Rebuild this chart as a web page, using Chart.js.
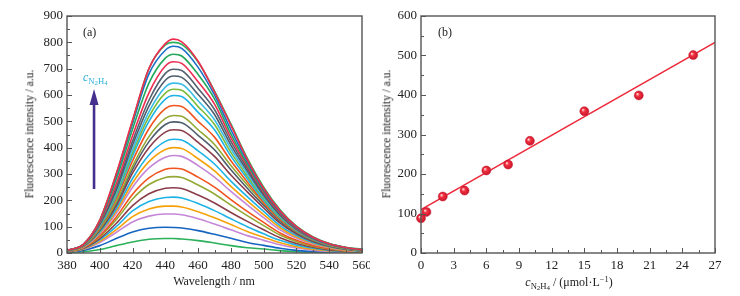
<!DOCTYPE html>
<html>
<head>
<meta charset="utf-8">
<script src="https://cdn.jsdelivr.net/npm/chart.js@4.4.0/dist/chart.umd.min.js"></script>
<style>
  html, body { margin: 0; padding: 0; background: #fff; }
  #page { position: relative; width: 740px; height: 296px; overflow: hidden; font-family: "Liberation Serif", "DejaVu Serif", serif; color: #222; }
  #page canvas { position: absolute; top: 0; }
  .lbl { position: absolute; white-space: nowrap; font-size: 12px; line-height: 1; }
  .mid { transform: translate(-50%, -50%); }
  .vert { transform: translate(-50%, -50%) rotate(-90deg); font-size: 11.5px; }
  .sub { font-size: 0.72em; position: relative; top: 0.35em; font-style: normal; }
  .sub2 { font-size: 0.8em; position: relative; top: 0.2em; }
  .sup { font-size: 0.7em; position: relative; top: -0.45em; }
</style>
</head>
<body>
<div id="page">
  <canvas id="spectraChart" width="370" height="296" style="left:0"></canvas>
  <canvas id="fitChart" width="370" height="296" style="left:370px"></canvas>

  <div class="lbl vert" style="left:30px;top:134px">Fluorescence intensity / a.u.</div>
  <div class="lbl mid" style="left:214px;top:281px">Wavelength / nm</div>
  <div class="lbl" style="left:83px;top:26px">(a)</div>
  <div class="lbl" style="left:83px;top:71px;color:#2bb0d6"><i>c</i><span class="sub">N<span class="sub2">2</span>H<span class="sub2">4</span></span></div>

  <div class="lbl vert" style="left:387px;top:134px">Fluorescence intensity / a.u.</div>
  <div class="lbl mid" style="left:569px;top:282px"><i>c</i><span class="sub">N<span class="sub2">2</span>H<span class="sub2">4</span></span> / (μmol·L<span class="sup">−1</span>)</div>
  <div class="lbl" style="left:438px;top:26px">(b)</div>
</div>

<script>
/* (a) SPECTRA, one array per N2H4 concentration, low to high */
var wavelengths = [380, 390, 400, 410, 420, 430, 440, 445, 450, 460, 470, 480, 490, 500, 510, 520, 530, 540, 550, 560];

var s01 = [2, 5, 13, 28, 42, 52, 55, 55, 53, 47, 38, 28, 20, 15, 9, 5, 2, 1, 0, 0];
var s02 = [3, 10, 28, 55, 80, 94, 98, 97, 95, 85, 71, 56, 40, 29, 18, 10, 6, 3, 1, 0];
var s03 = [4, 14, 40, 78, 118, 140, 148, 148, 145, 130, 110, 88, 66, 48, 31, 19, 11, 6, 3, 1];
var s04 = [4, 15, 44, 88, 138, 167, 178, 178, 175, 157, 134, 108, 82, 60, 39, 24, 14, 8, 4, 2];
var s05 = [5, 17, 50, 100, 160, 196, 211, 212, 209, 188, 161, 130, 100, 73, 48, 30, 18, 10, 5, 2];
var s06 = [5, 18, 55, 112, 180, 225, 246, 248, 245, 220, 190, 154, 120, 88, 58, 36, 22, 12, 7, 3];
var s07 = [6, 20, 62, 126, 205, 260, 287, 290, 287, 258, 224, 182, 142, 104, 68, 43, 26, 15, 8, 4];
var s08 = [6, 21, 66, 136, 223, 285, 318, 322, 319, 288, 250, 203, 158, 116, 76, 48, 29, 17, 9, 4];
var s09 = [7, 23, 72, 150, 250, 323, 364, 370, 367, 332, 288, 234, 183, 134, 88, 56, 34, 20, 11, 5];
var s10 = [7, 24, 76, 158, 266, 347, 393, 400, 397, 358, 312, 253, 198, 146, 96, 61, 37, 22, 12, 6];
var s11 = [7, 25, 80, 167, 283, 372, 424, 432, 429, 388, 338, 273, 214, 158, 104, 66, 40, 24, 13, 6];
var s12 = [8, 26, 85, 178, 303, 400, 459, 468, 465, 420, 367, 296, 232, 171, 113, 72, 44, 26, 15, 7];
var s13 = [8, 27, 88, 187, 318, 423, 488, 498, 495, 447, 392, 316, 246, 181, 120, 76, 46, 27, 16, 8];
var s14 = [8, 28, 91, 193, 330, 442, 511, 522, 519, 468, 412, 332, 258, 190, 126, 80, 49, 29, 17, 8];
var s15 = [8, 29, 96, 205, 350, 472, 548, 560, 556, 500, 440, 350, 270, 192, 128, 81, 50, 30, 17, 9];
var s16 = [9, 30, 100, 215, 368, 500, 584, 598, 594, 534, 468, 368, 282, 200, 133, 84, 52, 31, 18, 10];
var s17 = [9, 30, 103, 222, 380, 518, 607, 622, 618, 556, 488, 382, 292, 207, 137, 86, 53, 32, 18, 10];
var s18 = [9, 31, 106, 230, 393, 536, 630, 645, 641, 578, 506, 396, 302, 213, 141, 88, 54, 33, 19, 11];
var s19 = [9, 31, 109, 238, 410, 558, 656, 672, 667, 602, 526, 410, 312, 219, 144, 90, 55, 33, 19, 11];
var s20 = [9, 32, 112, 247, 425, 580, 682, 698, 693, 625, 545, 424, 321, 225, 148, 92, 56, 34, 20, 12];
var s21 = [10, 32, 116, 262, 445, 608, 710, 726, 720, 650, 565, 438, 330, 230, 151, 94, 57, 34, 20, 12];
var s22 = [10, 33, 120, 280, 470, 645, 740, 755, 748, 678, 585, 452, 338, 236, 155, 96, 58, 35, 20, 13];
var s23 = [10, 33, 123, 292, 492, 680, 770, 785, 777, 705, 600, 468, 348, 242, 158, 98, 59, 35, 21, 13];
var s24 = [10, 33, 125, 298, 500, 700, 790, 800, 792, 725, 615, 490, 360, 250, 164, 102, 62, 36, 22, 14];
var s25 = [10, 33, 125, 300, 505, 700, 795, 812, 802, 728, 612, 485, 355, 245, 160, 100, 60, 35, 21, 13];

var spectra = [s01, s02, s03, s04, s05, s06, s07, s08, s09, s10, s11, s12, s13,
               s14, s15, s16, s17, s18, s19, s20, s21, s22, s23, s24, s25];
var spectraColors = ['#2bb15a', '#1565c0', '#c586d8', '#f5a20a', '#1db3e6', '#8b3d4a', '#93a934', '#f0531d',
                     '#c586d8', '#f5a20a', '#1db3e6', '#8b3d4a', '#4e5e6c', '#93a934', '#f0531d', '#1db3e6',
                     '#7dbb3a', '#3bbde8', '#4e5e6c', '#56616f', '#ef2b4f', '#21a85a', '#1a6fc9', '#2bb15a', '#ef2b4f'];
var wlTicks = [380, 560, 20];
var intensityTicks = [0, 900, 100];

/* (b) CALIBRATION POINTS AND FIT LINE */
var concentrations = [0, 0.5, 2, 4, 6, 8, 10, 15, 20, 25];
var intensities = [88, 104, 143, 158, 209, 224, 284, 359, 399, 501];
var fitX = [0, 27];
var fitY = [110, 533];
var concTicks = [0, 27, 3];
var fitIntensityTicks = [0, 600, 100];

/* arrow in (a): wavelength, from intensity, to intensity */
var arrowAt = [396.5, 243, 623];

Chart.defaults.font.family = '"Liberation Serif", "DejaVu Serif", serif';
Chart.defaults.font.size = 13;
Chart.defaults.color = '#222';

function pairs(xs, ys) {
  var out = [];
  for (var i = 0; i < xs.length; i++) {
    out.push({ x: xs[i], y: ys[i] });
  }
  return out;
}

function fixedX(h) {
  return function (s) { s.height = h; s.paddingLeft = 0; s.paddingRight = 0; };
}
function fixedY(w) {
  return function (s) { s.width = w; s.paddingTop = 0; s.paddingBottom = 0; };
}

function axis(t, afterFit, pad) {
  return {
    type: 'linear', min: t[0], max: t[1],
    ticks: { stepSize: t[2], padding: pad, color: '#222', font: { size: 13 } },
    grid: { display: false, drawTicks: false },
    border: { display: false },
    afterFit: afterFit
  };
}

/* frame box and inward ticks */
var frameTicks = {
  id: 'frameTicks',
  afterDraw: function (chart) {
    var c = chart.ctx, a = chart.chartArea;
    var xs = chart.scales.x, ys = chart.scales.y;
    c.save();
    c.strokeStyle = '#555';
    c.lineWidth = 1.4;
    c.strokeRect(a.left, a.top, a.right - a.left, a.bottom - a.top);
    c.lineWidth = 1;
    c.beginPath();
    var xt = xs.ticks, yt = ys.ticks, i, p;
    for (i = 0; i < xt.length; i++) {
      p = Math.round(xs.getPixelForValue(xt[i].value)) + 0.5;
      c.moveTo(p, a.bottom); c.lineTo(p, a.bottom - 5);
      if (i < xt.length - 1) {
        p = Math.round(xs.getPixelForValue((xt[i].value + xt[i + 1].value) / 2)) + 0.5;
        c.moveTo(p, a.bottom); c.lineTo(p, a.bottom - 3);
      }
    }
    for (i = 0; i < yt.length; i++) {
      p = Math.round(ys.getPixelForValue(yt[i].value)) + 0.5;
      c.moveTo(a.left, p); c.lineTo(a.left + 5, p);
      if (i < yt.length - 1) {
        p = Math.round(ys.getPixelForValue((yt[i].value + yt[i + 1].value) / 2)) + 0.5;
        c.moveTo(a.left, p); c.lineTo(a.left + 3, p);
      }
    }
    c.stroke();
    c.restore();
  }
};

var concArrow = {
  id: 'concArrow',
  afterDatasetsDraw: function (chart) {
    var c = chart.ctx;
    var x = chart.scales.x.getPixelForValue(arrowAt[0]);
    var y0 = chart.scales.y.getPixelForValue(arrowAt[1]);
    var y1 = chart.scales.y.getPixelForValue(arrowAt[2]);
    c.save();
    c.fillStyle = '#45308f';
    c.fillRect(x - 1.3, y1 + 14, 2.6, y0 - y1 - 14);
    c.beginPath();
    c.moveTo(x, y1);
    c.lineTo(x + 4.5, y1 + 16);
    c.lineTo(x - 4.5, y1 + 16);
    c.closePath();
    c.fill();
    c.restore();
  }
};

/* shaded red ball for the calibration points */
function ballColor(ctx) {
  var ch = ctx.chart;
  if (!ch.chartArea || !ctx.parsed) return '#e8233b';
  var x = ch.scales.x.getPixelForValue(ctx.parsed.x);
  var y = ch.scales.y.getPixelForValue(ctx.parsed.y);
  var g = ch.ctx.createRadialGradient(x - 1.5, y - 1.5, 0.3, x, y, 4.8);
  g.addColorStop(0, '#ffd6d6');
  g.addColorStop(0.35, '#f2303f');
  g.addColorStop(1, '#c4142a');
  return g;
}

/* (a) */
var spectraSets = [];
for (var k = spectra.length - 1; k >= 0; k--) {
  spectraSets.push({
    data: pairs(wavelengths, spectra[k]),
    borderColor: spectraColors[k],
    borderWidth: 1.6,
    pointRadius: 0,
    cubicInterpolationMode: 'monotone',
    fill: false
  });
}

new Chart(document.getElementById('spectraChart'), {
  type: 'line',
  data: { datasets: spectraSets },
  options: {
    responsive: false,
    animation: false,
    devicePixelRatio: 1,
    layout: { padding: { top: 16, right: 8, left: 0, bottom: 0 } },
    plugins: { legend: { display: false }, tooltip: { enabled: false } },
    scales: {
      x: axis(wlTicks, fixedX(43), 5),
      y: axis(intensityTicks, fixedY(67), 4)
    }
  },
  plugins: [frameTicks, concArrow]
});

/* (b) */
new Chart(document.getElementById('fitChart'), {
  type: 'scatter',
  data: {
    datasets: [{
      data: pairs(concentrations, intensities),
      backgroundColor: ballColor,
      borderColor: '#c8182e',
      borderWidth: 0.5,
      pointRadius: 4.5,
      clip: false
    }, {
      type: 'line',
      data: pairs(fitX, fitY),
      borderColor: '#ec2a3a',
      borderWidth: 1.4,
      pointRadius: 0,
      fill: false
    }]
  },
  options: {
    responsive: false,
    animation: false,
    devicePixelRatio: 1,
    layout: { padding: { top: 16, right: 25, left: 0, bottom: 0 } },
    plugins: { legend: { display: false }, tooltip: { enabled: false } },
    scales: {
      x: axis(concTicks, fixedX(43), 5),
      y: axis(fitIntensityTicks, fixedY(51), 4)
    }
  },
  plugins: [frameTicks]
});
</script>
</body>
</html>
